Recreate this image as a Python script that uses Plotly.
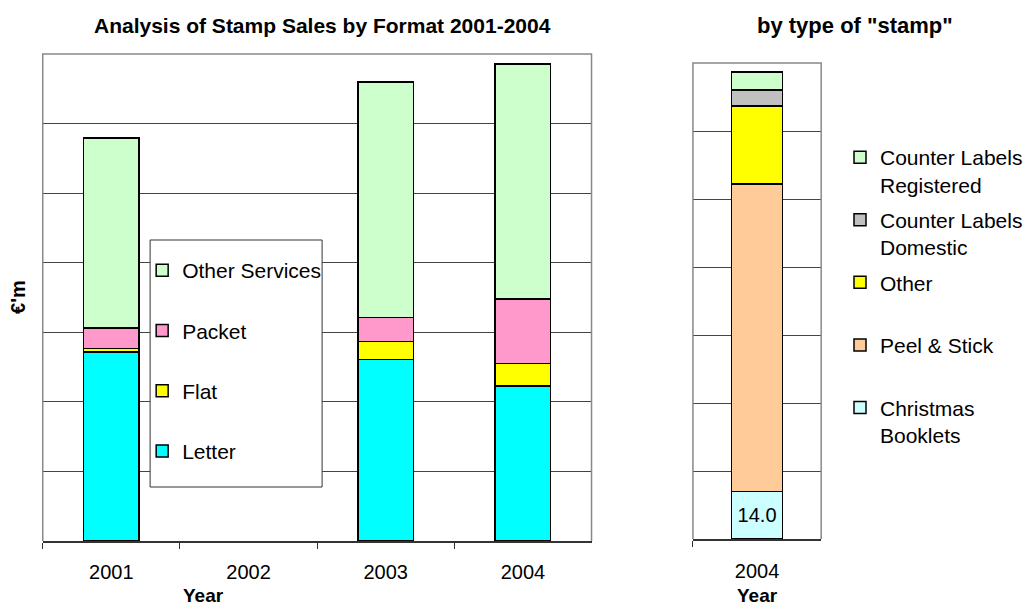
import plotly.graph_objects as go

# ---------------- data ----------------
years = ["2001", "2002", "2003", "2004"]
letter = [54.4, None, 52.2, 44.6]
flat = [1.0, None, 5.1, 6.5]
packet = [5.9, None, 6.9, 18.4]
other_services = [54.6, None, 67.7, 67.6]

stamp_year = ["2004"]
christmas_booklets = [14.0]
peel_stick = [90.4]
other_stamp = [23.0]
cl_domestic = [4.7]
cl_registered = [5.3]

FONT = "Liberation Sans, Arial, sans-serif"
W, H = 1028, 606


def px(v):
    return v / W


def py(v):
    return 1 - v / H


fig = go.Figure()

left_series = [
    ("Letter", letter, "#00FFFF"),
    ("Flat", flat, "#FFFF00"),
    ("Packet", packet, "#FF99CC"),
    ("Other Services", other_services, "#CCFFCC"),
]
for i, (name, vals, col) in enumerate(left_series):
    fig.add_trace(go.Bar(
        x=years, y=vals, name=name, xaxis="x", yaxis="y",
        marker=dict(color=col, line=dict(color="black", width=1.5)),
        width=0.405, legend="legend", legendgroup=name,
        legendrank=100 - i,
    ))

right_series = [
    ("Christmas<br>Booklets", christmas_booklets, "#CCFFFF"),
    ("Peel & Stick<br> ", peel_stick, "#FFCC99"),
    ("Other<br> ", other_stamp, "#FFFF00"),
    ("Counter Labels<br>Domestic", cl_domestic, "#C0C0C0"),
    ("Counter Labels<br>Registered", cl_registered, "#CCFFCC"),
]
for i, (name, vals, col) in enumerate(right_series):
    kw = {}
    if i == 0:
        kw = dict(texttemplate="%{y:.1f}", textposition="inside",
                  insidetextanchor="middle",
                  textfont=dict(size=20, color="black", family=FONT))
    fig.add_trace(go.Bar(
        x=stamp_year, y=vals, name=name, xaxis="x2", yaxis="y2",
        marker=dict(color=col, line=dict(color="black", width=1.5)),
        width=0.40, legend="legend2", legendgroup="r" + str(i),
        legendrank=100 - i,
        **kw,
    ))

axis_common = dict(showgrid=False, zeroline=False)

fig.update_layout(
    width=W, height=H,
    margin=dict(l=0, r=0, t=0, b=0),
    paper_bgcolor="white", plot_bgcolor="white",
    barmode="stack",
    font=dict(family=FONT, size=20, color="black"),
    xaxis=dict(domain=[px(43), px(595)], anchor="y", type="category",
               tickson="boundaries", ticks="outside", ticklen=6,
               tickcolor="#333333", tickwidth=1.2,
               showline=True, linecolor="#333333", linewidth=1.5,
               ticklabelstandoff=12,
               tickfont=dict(size=20, family=FONT, color="black"),
               **axis_common),
    yaxis=dict(domain=[py(541), py(54)], anchor="x", range=[0, 140],
               dtick=20, showgrid=True, gridcolor="#444444", gridwidth=1,
               showticklabels=False, zeroline=False),
    xaxis2=dict(domain=[px(697), px(826)], anchor="y2", type="category",
                tickson="boundaries", ticks="outside", ticklen=6,
                tickcolor="#333333", tickwidth=1.2,
                showline=True, linecolor="#333333", linewidth=1.5,
                ticklabelstandoff=13,
                tickfont=dict(size=20, family=FONT, color="black"),
                **axis_common),
    yaxis2=dict(domain=[py(539), py(63)], anchor="x2", range=[0, 140],
                dtick=20, showgrid=True, gridcolor="#444444", gridwidth=1,
                showticklabels=False, zeroline=False),
    legend=dict(x=px(143), y=py(250), xanchor="left", yanchor="top",
                bgcolor="rgba(0,0,0,0)", borderwidth=0,
                traceorder="grouped", tracegroupgap=30,
                font=dict(size=21, family=FONT, color="black")),
    legend2=dict(x=px(845), y=py(137), xanchor="left", yanchor="top",
                 bgcolor="rgba(0,0,0,0)", borderwidth=0,
                 traceorder="grouped", tracegroupgap=5,
                 valign="top",
                 font=dict(size=21, family=FONT, color="black")),
    showlegend=True,
)

shapes = [
    # left plot frame (left, top, right)
    dict(type="path", xref="paper", yref="paper",
         path=f"M {px(43)} {py(541)} L {px(43)} {py(54)} L {px(595)} {py(54)} L {px(595)} {py(541)}",
         line=dict(color="#888888", width=1.5), layer="above"),
    # right plot frame
    dict(type="path", xref="paper", yref="paper",
         path=f"M {px(697)} {py(539)} L {px(697)} {py(63)} L {px(826)} {py(63)} L {px(826)} {py(539)}",
         line=dict(color="#888888", width=1.5), layer="above"),
    # left legend box
    dict(type="rect", xref="paper", yref="paper",
         x0=px(151), x1=px(324), y0=py(487), y1=py(240),
         fillcolor="white", line=dict(color="#333333", width=1), layer="above"),
]
fig.update_layout(shapes=shapes)

annotations = [
    dict(text="<b>Analysis of Stamp Sales by Format 2001-2004</b>",
         x=px(324), y=py(25), font=dict(size=21)),
    dict(text="<b>by type of \"stamp\"</b>", x=px(860), y=py(25),
         font=dict(size=22)),
    dict(text="<b>€'m</b>", x=px(18), y=py(297), textangle=-90,
         font=dict(size=20)),
    dict(text="<b>Year</b>", x=px(205), y=py(595), font=dict(size=19)),
    dict(text="<b>Year</b>", x=px(762), y=py(595), font=dict(size=19)),
]
for a in annotations:
    a.update(xref="paper", yref="paper", showarrow=False,
             xanchor="center", yanchor="middle")
    a["font"].update(family=FONT, color="black")
fig.update_layout(annotations=annotations)

fig.write_html("out.html")
